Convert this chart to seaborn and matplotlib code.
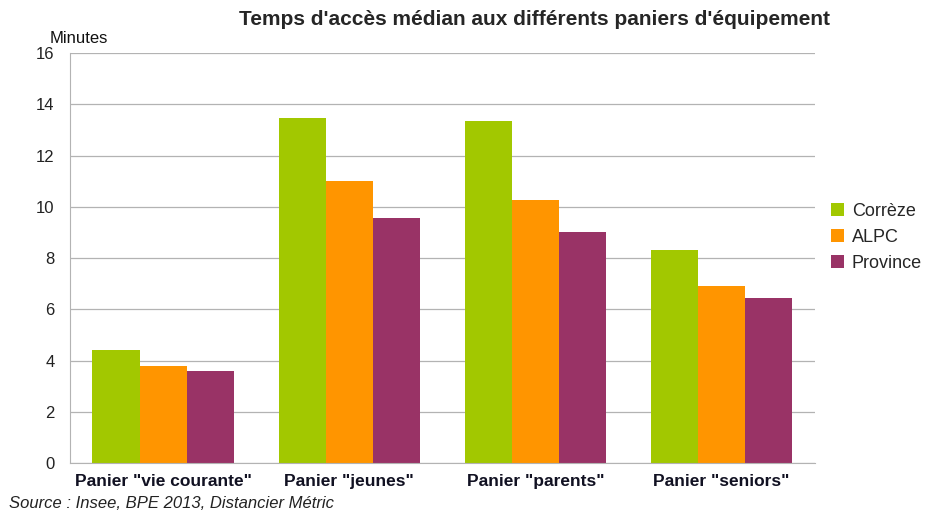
import pandas as pd
import numpy as np
import matplotlib
matplotlib.use("Agg")
import matplotlib.pyplot as plt
import seaborn as sns

# donnees
paniers = ['Panier "vie courante"', 'Panier "jeunes"', 'Panier "parents"', 'Panier "seniors"']
zones = ["Corrèze", "ALPC", "Province"]
correze = [4.4, 13.45, 13.35, 8.3]
alpc = [3.8, 11.0, 10.25, 6.9]
province = [3.6, 9.55, 9.0, 6.45]
couleurs = ["#a2c800", "#ff9500", "#993366"]

df = pd.DataFrame({
    "panier": paniers * 3,
    "zone": [z for z in zones for _ in paniers],
    "minutes": correze + alpc + province,
})

sns.set_style("white")
plt.rcParams["font.family"] = ["Liberation Sans", "DejaVu Sans"]

fig = plt.figure(figsize=(9.25, 5.11), dpi=100)
ax = fig.add_axes([0.0757, 0.094, 0.805, 0.802])

sns.barplot(data=df, x="panier", y="minutes", hue="zone", palette=couleurs,
            width=0.76, saturation=1, linewidth=0, edgecolor="none", ax=ax, legend=True)

ax.set_ylim(0, 16)
ax.set_xlim(-0.5, 3.5)
ax.set_yticks(np.arange(0, 17, 2))
ax.yaxis.grid(True, color="#b3b3b3", linewidth=0.9)
ax.set_axisbelow(True)
ax.set_xlabel("")
ax.set_ylabel("")
for s in ["top", "right"]:
    ax.spines[s].set_visible(False)
for s in ["left", "bottom"]:
    ax.spines[s].set_color("#b3b3b3")
ax.tick_params(axis="y", length=7, color="#b3b3b3", labelsize=12, labelcolor="#222222", pad=4)
ax.tick_params(axis="x", length=0, labelsize=12.5, pad=8)
for t in ax.get_xticklabels():
    t.set_fontweight("bold")
    t.set_color("#111122")
# petites graduations entre les groupes
ax.set_xticks([0.5, 1.5, 2.5, 3.5], minor=True)
ax.tick_params(axis="x", which="minor", length=6, color="#b3b3b3")

leg = ax.legend(loc="center left", bbox_to_anchor=(1.0, 0.55), frameon=False,
                fontsize=13, handlelength=0.7, handleheight=0.7, handletextpad=0.45,
                labelspacing=0.5)

fig.text(0.578, 0.961, "Temps d'accès médian aux différents paniers d'équipement",
         ha="center", va="center", fontsize=15, fontweight="bold")
fig.text(0.054, 0.925, "Minutes", fontsize=12, va="center", color="#111111")
fig.text(0.010, 0.006, "Source : Insee, BPE 2013, Distancier Métric",
         fontsize=12, style="italic", color="#222222")

fig.savefig("out.png", dpi=100)
